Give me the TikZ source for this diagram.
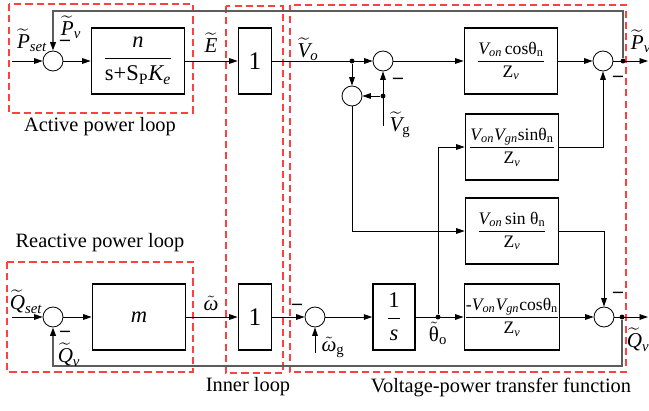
\documentclass[tikz,border=0pt]{standalone}
\usepackage{fontspec}
\setmainfont{Liberation Serif}
\usepackage{amsmath}
\usetikzlibrary{arrows.meta, positioning}
\definecolor{loopred}{HTML}{FF4040}
\definecolor{fbgray}{HTML}{5C5C5C}
\newcommand{\tld}[1]{\widetilde{\textit{#1}}}
\tikzstyle{block} = [rectangle, draw, line width=1.1pt, minimum width=2.33cm, minimum height=1.66cm, inner sep=0pt, font=\fontsize{12.5}{14}\selectfont]
\tikzstyle{bigblock} = [block, font=\fontsize{16}{18}\selectfont]
\tikzstyle{unity} = [block, minimum width=0.83cm, font=\fontsize{18}{20}\selectfont]
\tikzstyle{sumnode} = [circle, draw, minimum size=0.5cm, inner sep=0pt, line width=0.6pt]
\tikzstyle{junction} = [circle, fill, inner sep=0pt, minimum size=3.5pt]
\tikzstyle{arrow} = [line width=0.6pt, -{Triangle[length=6pt,width=4pt,color=black]}]
\tikzstyle{fback} = [line width=1.3pt, draw=fbgray]
\tikzstyle{loopbox} = [draw=loopred, line width=0.8pt, dash pattern=on 5pt off 3pt]
\tikzstyle{negsign} = [font=\bfseries\fontsize{14}{14}\selectfont, inner sep=0pt]
\tikzstyle{lbl} = [font=\fontsize{15}{17}\selectfont, inner sep=0pt]
\tikzstyle{looptitle} = [font=\fontsize{14.5}{17}\selectfont, inner sep=0pt]

\begin{document}
\begin{tikzpicture}[x=0.025cm, y=-0.025cm]
    \useasboundingbox (0,0) rectangle (649,410);

    % loops
    \draw[loopbox] (9,4) rectangle (193,113);
    \draw[loopbox] (7,262) rectangle (193,372);
    \draw[loopbox] (226,6) rectangle (283,373);
    \draw[loopbox] (290,5) rectangle (626,372);
    \node[looptitle] (tActive) at (100,127) {Active power loop};
    \node[looptitle] (tReactive) at (100,243) {Reactive power loop};
    \node[looptitle] (tInner) at (248,387) {Inner loop};
    \node[looptitle] (tVpt) at (501,388) {Voltage-power transfer function};

    % top row
    \coordinate (pin) at (12,61);
    \node[sumnode] (sumP) at (53,61) {};
    \node[bigblock] (blkN) at (138,61) {$\dfrac{\textit{n}}{\text{s+S}_{\text{P}}\textit{K}_{\textit{e}}}$};
    \node[unity] (one1) at (255,61) {1};
    \node[junction] (dVo) at (352,61) {};
    \node[sumnode] (sumVo) at (383,61) {};
    \node[block] (blkCos) at (511,61) {$\dfrac{\textit{V}_{\textit{on}}\,\text{cosθ}_{\text{n}}}{\text{Z}_{\textit{v}}}$};
    \node[sumnode] (sumPv) at (603,61) {};
    \node[junction] (dPv) at (623,61) {};
    \coordinate (outP) at (648,61);

    % middle
    \node[sumnode] (sumVg) at (352,96) {};
    \node[junction] (dVg) at (383,96) {};
    \coordinate (vgin) at (383,126);
    \node[block] (blkVsin) at (512,147) {$\dfrac{\textit{V}_{\textit{on}}\textit{V}_{\textit{gn}}\text{sinθ}_{\text{n}}}{\text{Z}_{\textit{v}}}$};
    \node[block] (blkSin) at (512,231) {$\dfrac{\textit{V}_{\textit{on}}\,\text{sin θ}_{\text{n}}}{\text{Z}_{\textit{v}}}$};

    % bottom row
    \coordinate (qin) at (12,317);
    \node[sumnode] (sumQ) at (53,317) {};
    \node[bigblock] (blkM) at (139,317) {\textit{m}};
    \node[unity] (one2) at (255,317) {1};
    \node[sumnode] (sumW) at (315,317) {};
    \coordinate (wgin) at (315,353);
    \node[bigblock, minimum width=1.05cm] (blkS) at (394,317) {$\dfrac{\text{1}}{\textit{s}}$};
    \node[junction] (dTh) at (438,317) {};
    \node[block] (blkVcos) at (512,317) {$\dfrac{\text{-}\textit{V}_{\textit{on}}\textit{V}_{\textit{gn}}\text{cosθ}_{\text{n}}}{\text{Z}_{\textit{v}}}$};
    \node[sumnode] (sumQv) at (604,317) {};
    \node[junction] (dQv) at (622,317) {};
    \coordinate (outQ) at (648,317);

    % feedback corners
    \coordinate (fbtop) at (53,11);
    \coordinate (fbbot) at (53,366);

    \draw[arrow] (pin) -- (sumP);
    \draw[arrow] (sumP) -- (blkN);
    \draw[arrow] (blkN) -- (one1);
    \draw[arrow] (one1) -- (sumVo);
    \draw[arrow] (dVo) -- (sumVg);
    \draw[arrow] (vgin) -- (sumVo);
    \draw[arrow] (dVg) -- (sumVg);
    \draw[arrow] (sumVo) -- (blkCos);
    \draw[arrow] (blkCos) -- (sumPv);
    \draw[arrow] (sumPv) -- (outP);
    \draw[arrow] (sumVg) |- (blkSin);
    \draw[arrow] (blkVsin) -| (sumPv);
    \draw[arrow] (blkSin) -| (sumQv);
    \draw[arrow] (dTh) |- (blkVsin);

    \draw[arrow] (qin) -- (sumQ);
    \draw[arrow] (sumQ) -- (blkM);
    \draw[arrow] (blkM) -- (one2);
    \draw[arrow] (one2) -- (sumW);
    \draw[arrow] (wgin) -- (sumW);
    \draw[arrow] (sumW) -- (blkS);
    \draw[arrow] (blkS) -- (blkVcos);
    \draw[arrow] (blkVcos) -- (sumQv);
    \draw[arrow] (sumQv) -- (outQ);

    \draw[arrow, fback] (dPv) |- (fbtop) -- (sumP);
    \draw[arrow, fback] (dQv) |- (fbbot) -- (sumQ);

    % Labels
    \node[lbl] (lPset) at (32,40) {$\tld{P}_{\textit{set}}$};
    \node[lbl] (lPv1) at (71,27) {$\tld{P}_{\textit{v}}$};
    \node[negsign] (m1) at (65,43) {--};
    \node[lbl] (lE) at (211,43) {$\tld{E}$};
    \node[lbl] (lVo) at (308,49) {$\tld{V}_{\textit{o}}$};
    \node[lbl] (lVg) at (400,125) {$\tld{V}_{\text{g}}$};
    \node[negsign] (m2) at (398,81) {--};
    \node[lbl] (lPv2) at (641,41) {$\tld{P}_{\textit{v}}$};
    \node[negsign] (m3) at (618,79) {--};
    \node[lbl] (lQset) at (26,302) {$\tld{Q}_{\textit{set}}$};
    \node[negsign] (m4) at (65,334) {--};
    \node[lbl] (lQv1) at (69,355) {$\tld{Q}_{\textit{v}}$};
    \node[lbl] (lw) at (211,303) {$\tilde{\textit{ω}}$};
    \node[negsign] (m5) at (297,307) {--};
    \node[lbl] (lwg) at (333,347) {$\tilde{\textit{ω}}_{\text{g}}$};
    \node[lbl] (lth) at (438,333) {$\tilde{\text{θ}}_{\text{o}}$};
    \node[negsign] (m6) at (618,295) {--};
    \node[lbl] (lQv2) at (638,340) {$\tld{Q}_{\textit{v}}$};
\end{tikzpicture}
\end{document}
